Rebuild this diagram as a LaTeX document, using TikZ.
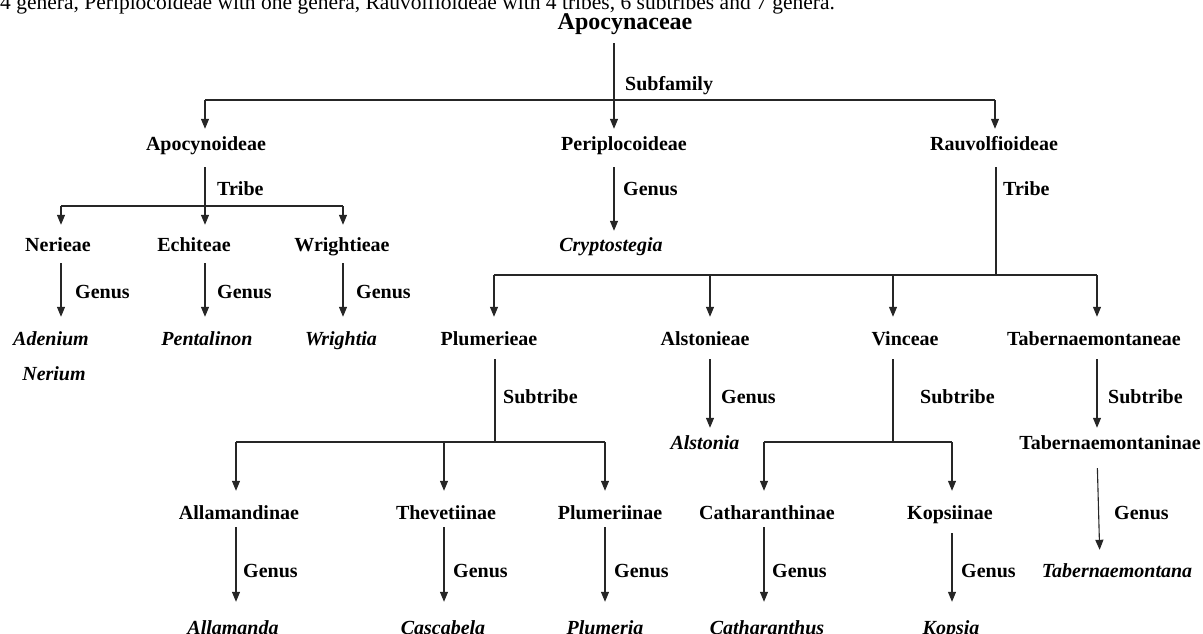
\documentclass[tikz,border=0pt]{standalone}
\usepackage{fontspec}
\setmainfont{Liberation Serif}
\usetikzlibrary{arrows.meta}
\begin{document}
\begin{tikzpicture}[x=1pt,y=-1pt,
 ln/.style={line width=1.1pt, draw=black!85},
 arr/.style={ln, -{Triangle[length=10pt,width=8pt]}},
 lab/.style={inner sep=0pt, text height=14pt, text depth=5pt, anchor=base, font=\bfseries\fontsize{20}{24}\selectfont},
 gen/.style={lab, font=\bfseries\itshape\fontsize{20}{24}\selectfont},
 rel/.style={lab, anchor=base west}]
\useasboundingbox (0,0) rectangle (1203,634);
\clip (0,0) rectangle (1203,634);

% intro line (cut at top)
\node[inner sep=0pt, anchor=base west, font=\fontsize{21.5}{26}\selectfont] (intro) at (0,10) {4 genera, Periplocoideae with one genera, Rauvolfioideae with 4 tribes, 6 subtribes and 7 genera.};

% nodes
\node[lab, text height=16pt, text depth=6pt, font=\bfseries\fontsize{24}{28}\selectfont] (apo) at (625,30) {Apocynaceae};
\node[rel] (lsub) at (625,91) {Subfamily};
\node[lab] (apoi) at (206,150) {Apocynoideae};
\node[lab] (peri) at (624,150) {Periplocoideae};
\node[lab] (rauv) at (994,150) {Rauvolfioideae};
\node[rel] (ltr1) at (217,195) {Tribe};
\node[rel] (lgp) at (623,195) {Genus};
\node[rel] (ltr2) at (1003,195) {Tribe};
\node[lab] (ner) at (58,251) {Nerieae};
\node[lab] (ech) at (194,251) {Echiteae};
\node[lab] (wri) at (342,251) {Wrightieae};
\node[gen] (crypt) at (611,251) {Cryptostegia};
\node[rel] (lg1) at (75,298) {Genus};
\node[rel] (lg2) at (217,298) {Genus};
\node[rel] (lg3) at (356,298) {Genus};
\node[gen] (aden) at (51,345) {Adenium};
\node[gen] (neri) at (54,380) {Nerium};
\node[gen] (pent) at (207,345) {Pentalinon};
\node[gen] (wrig) at (341,345) {Wrightia};
\node[lab] (plum) at (489,345) {Plumerieae};
\node[lab] (alst) at (705,345) {Alstonieae};
\node[lab] (vinc) at (905,345) {Vinceae};
\node[lab] (tabe) at (1094,345) {Tabernaemontaneae};
\node[rel] (ls1) at (503,403) {Subtribe};
\node[rel] (lga) at (721,403) {Genus};
\node[rel] (ls2) at (920,403) {Subtribe};
\node[rel] (ls3) at (1108,403) {Subtribe};
\node[gen] (alsto) at (705,449) {Alstonia};
\node[lab] (tabs) at (1110,449) {Tabernaemontaninae};
\node[lab] (allam) at (239,519) {Allamandinae};
\node[lab] (thev) at (446,519) {Thevetiinae};
\node[lab] (plumi) at (610,519) {Plumeriinae};
\node[lab] (cath) at (767,519) {Catharanthinae};
\node[lab] (kops) at (950,519) {Kopsiinae};
\node[rel] (lgt) at (1114,519) {Genus};
\node[rel] (lb1) at (243,577) {Genus};
\node[rel] (lb2) at (453,577) {Genus};
\node[rel] (lb3) at (614,577) {Genus};
\node[rel] (lb4) at (772,577) {Genus};
\node[rel] (lb5) at (961,577) {Genus};
\node[gen] (tabn) at (1117,577) {Tabernaemontana};
\node[gen] (alla) at (233,634) {Allamanda};
\node[gen] (casc) at (443,634) {Cascabela};
\node[gen] (plmr) at (605,634) {Plumeria};
\node[gen] (cthr) at (767,634) {Catharanthus};
\node[gen] (kpsa) at (951,634) {Kopsia};

% junction coordinates
\coordinate (b0) at (614,100); \coordinate (b0l) at (205,100); \coordinate (b0r) at (995,100);
\coordinate (b1) at (205,206); \coordinate (b1l) at (61,206); \coordinate (b1r) at (343,206);
\coordinate (b2) at (996,275); \coordinate (b2a) at (494,275); \coordinate (b2b) at (710,275);
\coordinate (b2c) at (893,275); \coordinate (b2d) at (1097,275);
\coordinate (b3) at (495,442); \coordinate (b3a) at (236,442); \coordinate (b3b) at (444,442); \coordinate (b3c) at (605,442);
\coordinate (b4) at (893,442); \coordinate (b4a) at (764,442); \coordinate (b4b) at (952,442);

% family -> subfamilies
\draw[ln, shorten <=7pt] (apo.south -| b0) -- (b0);
\draw[ln] (b0l) -- (b0r);
\draw[arr, shorten >=7pt] (b0l) -- (apoi.north -| b0l);
\draw[arr, shorten >=7pt] (b0) -- (peri.north -| b0);
\draw[arr, shorten >=7pt] (b0r) -- (rauv.north -| b0r);

% Apocynoideae
\draw[ln, shorten <=12pt] (apoi.south -| b1) -- (b1);
\draw[ln] (b1l) -- (b1r);
\draw[arr, shorten >=12pt] (b1l) -- (ner.north -| b1l);
\draw[arr, shorten >=12pt] (b1) -- (ech.north -| b1);
\draw[arr, shorten >=12pt] (b1r) -- (wri.north -| b1r);
\draw[arr, shorten <=7pt, shorten >=14pt] (ner.south -| b1l) -- (aden.north -| b1l);
\draw[arr, shorten <=7pt, shorten >=14pt] (ech.south -| b1) -- (pent.north -| b1);
\draw[arr, shorten <=7pt, shorten >=14pt] (wri.south -| b1r) -- (wrig.north -| b1r);

% Periplocoideae
\draw[arr, shorten <=12pt, shorten >=6pt] (peri.south -| b0) -- (crypt.north -| b0);

% Rauvolfioideae
\draw[ln, shorten <=12pt] (rauv.south -| b2) -- (b2);
\draw[ln] (b2a) -- (b2d);
\draw[arr, shorten >=14pt] (b2a) -- (plum.north -| b2a);
\draw[arr, shorten >=14pt] (b2b) -- (alst.north -| b2b);
\draw[arr, shorten >=14pt] (b2c) -- (vinc.north -| b2c);
\draw[arr, shorten >=14pt] (b2d) -- (tabe.north -| b2d);

% Plumerieae
\draw[ln, shorten <=9pt] (plum.south -| b3) -- (b3);
\draw[ln] (b3a) -- (b3c);
\draw[arr, shorten >=14pt] (b3a) -- (allam.north -| b3a);
\draw[arr, shorten >=14pt] (b3b) -- (thev.north -| b3b);
\draw[arr, shorten >=14pt] (b3c) -- (plumi.north -| b3c);

% Alstonieae
\draw[arr, shorten <=9pt, shorten >=7pt] (alst.south -| b2b) -- (alsto.north -| b2b);

% Vinceae
\draw[ln, shorten <=9pt] (vinc.south -| b4) -- (b4);
\draw[ln] (b4a) -- (b4b);
\draw[arr, shorten >=14pt] (b4a) -- (cath.north -| b4a);
\draw[arr, shorten >=14pt] (b4b) -- (kops.north -| b4b);

% Tabernaemontaneae
\draw[arr, shorten <=9pt, shorten >=7pt] (tabe.south -| b2d) -- (tabs.north -| b2d);
\draw[arr, shorten <=14pt, shorten >=13pt] ([xshift=-13pt]tabs.south) -- ([xshift=-17pt]tabn.north);

% subtribes -> genera
\draw[arr, shorten <=3pt, shorten >=18pt] (allam.south -| b3a) -- (alla.north -| b3a);
\draw[arr, shorten <=3pt, shorten >=18pt] (thev.south -| b3b) -- (casc.north -| b3b);
\draw[arr, shorten <=3pt, shorten >=18pt] (plumi.south -| b3c) -- (plmr.north -| b3c);
\draw[arr, shorten <=3pt, shorten >=18pt] (cath.south -| b4a) -- (cthr.north -| b4a);
\draw[arr, shorten <=9pt, shorten >=18pt] (kops.south -| b4b) -- (kpsa.north -| b4b);
\end{tikzpicture}
\end{document}
